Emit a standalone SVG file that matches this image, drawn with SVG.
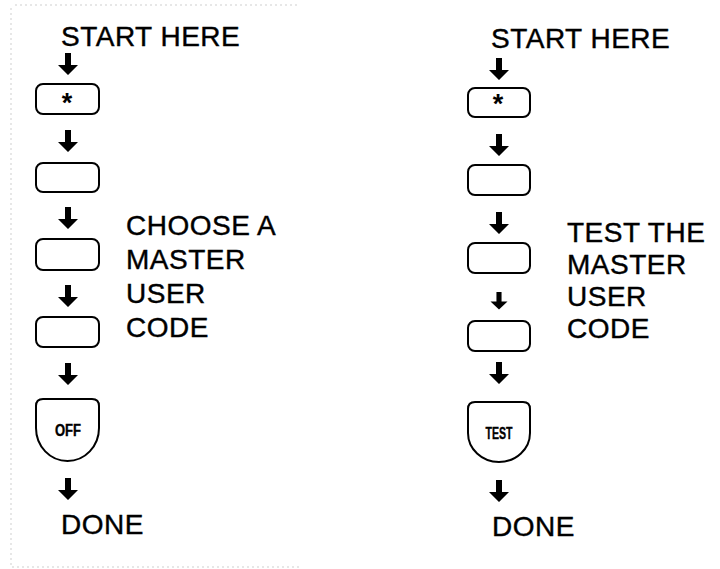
<svg xmlns="http://www.w3.org/2000/svg" xmlns:xlink="http://www.w3.org/1999/xlink" width="720" height="569" viewBox="0 0 720 569">
  <style>
    .lbl { font-family: "Liberation Sans", Arial, Helvetica, sans-serif; font-size: 28px; letter-spacing: 0.5px; fill: #000; stroke: #000; stroke-width: 0.4px; }
    .key { fill: #fff; stroke: #000; stroke-width: 2; }
    .star { font-family: "Liberation Sans", Arial, sans-serif; font-size: 27px; font-weight: bold; fill: #000; text-anchor: middle; }
    .keytxt { font-family: "Liberation Sans", Arial, sans-serif; font-size: 16px; font-weight: bold; fill: #000; stroke: #000; stroke-width: 0.4px; text-anchor: middle; }
    .arr { fill: #000; }
    .scan { fill: none; stroke: #cfcfcf; stroke-width: 1; stroke-dasharray: 2 3; }
  </style>
  <defs>
    <path id="arrow" d="M-3,0 H3 V12 H10 L0,22 L-10,12 H-3 Z"/>
  </defs>
  <rect width="720" height="569" fill="#fff"/>

  <g id="scan-frame">
    <path class="scan" d="M15,5 H300 M11,8 V566 M12,567 H300"/>
  </g>

  <g id="connectors" class="arr">
    <use xlink:href="#arrow" transform="translate(68,53)"/>
    <use xlink:href="#arrow" transform="translate(68,130)"/>
    <use xlink:href="#arrow" transform="translate(68,207)"/>
    <use xlink:href="#arrow" transform="translate(68,285)"/>
    <use xlink:href="#arrow" transform="translate(68,363)"/>
    <use xlink:href="#arrow" transform="translate(68,478)"/>
    <use xlink:href="#arrow" transform="translate(499,58)"/>
    <use xlink:href="#arrow" transform="translate(499,134)"/>
    <use xlink:href="#arrow" transform="translate(499,212)"/>
    <use xlink:href="#arrow" transform="translate(499,292) scale(0.85,0.8)"/>
    <use xlink:href="#arrow" transform="translate(499,362)"/>
    <use xlink:href="#arrow" transform="translate(499,480)"/>
  </g>

  <g id="left-start"><text class="lbl" x="61" y="46">START HERE</text></g>
  <g id="left-key1">
    <rect class="key" x="36" y="84" width="63" height="30" rx="7"/>
    <text class="star" x="67" y="112">*</text>
  </g>
  <g id="left-key2"><rect class="key" x="36" y="163" width="63" height="29" rx="7"/></g>
  <g id="left-key3"><rect class="key" x="36" y="239" width="63" height="31" rx="7"/></g>
  <g id="left-key4"><rect class="key" x="36" y="317" width="63" height="30" rx="7"/></g>
  <g id="left-off">
    <path class="key" d="M36,406 Q36,399 43,399 H92 Q99,399 99,406 V428 A31.5,33 0 0 1 36,428 Z"/>
    <text class="keytxt" x="68" y="436" textLength="26" lengthAdjust="spacingAndGlyphs">OFF</text>
  </g>
  <g id="left-done"><text class="lbl" x="61" y="534">DONE</text></g>
  <g id="left-note">
    <text class="lbl" x="126" y="235">CHOOSE A</text>
    <text class="lbl" x="126" y="269">MASTER</text>
    <text class="lbl" x="126" y="303">USER</text>
    <text class="lbl" x="126" y="337">CODE</text>
  </g>

  <g id="right-start"><text class="lbl" x="491" y="48">START HERE</text></g>
  <g id="right-key1">
    <rect class="key" x="468" y="88" width="62" height="29" rx="7"/>
    <text class="star" x="498" y="113">*</text>
  </g>
  <g id="right-key2"><rect class="key" x="468" y="165" width="62" height="30" rx="7"/></g>
  <g id="right-key3"><rect class="key" x="468" y="243" width="62" height="30" rx="7"/></g>
  <g id="right-key4"><rect class="key" x="468" y="321" width="62" height="30" rx="7"/></g>
  <g id="right-test">
    <path class="key" d="M468,409 Q468,402 475,402 H523 Q530,402 530,409 V433 A31,29 0 0 1 468,433 Z"/>
    <text class="keytxt" x="499" y="439" textLength="27" lengthAdjust="spacingAndGlyphs">TEST</text>
  </g>
  <g id="right-done"><text class="lbl" x="492" y="536">DONE</text></g>
  <g id="right-note">
    <text class="lbl" x="567" y="242">TEST THE</text>
    <text class="lbl" x="567" y="274">MASTER</text>
    <text class="lbl" x="567" y="306">USER</text>
    <text class="lbl" x="567" y="338">CODE</text>
  </g>
</svg>
